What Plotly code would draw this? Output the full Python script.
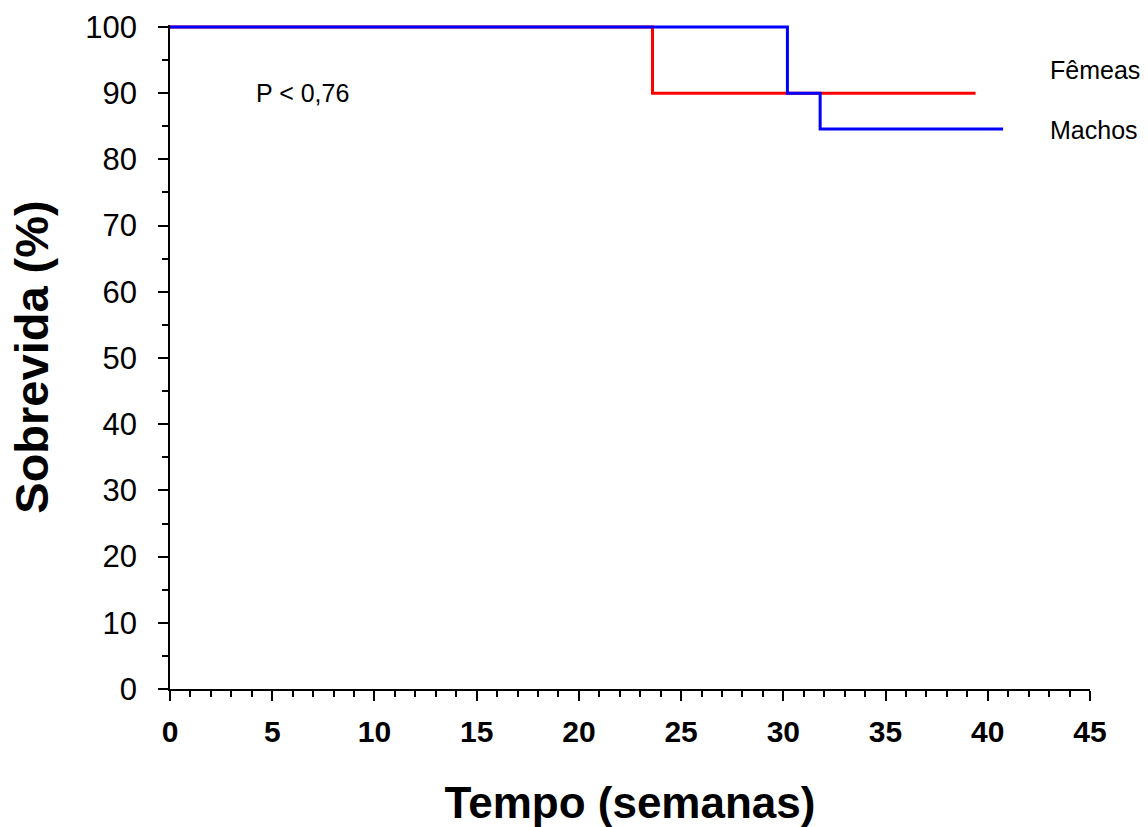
import plotly.graph_objects as go

# Kaplan-Meier step data (weeks, survival %)
femeas_t = [0, 23.6, 23.6, 39.4]
femeas_s = [100, 100, 90, 90]
machos_t = [0, 30.2, 30.2, 31.8, 31.8, 40.75]
machos_s = [100, 100, 90, 90, 84.6, 84.6]

x_ticks = [0, 5, 10, 15, 20, 25, 30, 35, 40, 45]
y_ticks = [0, 10, 20, 30, 40, 50, 60, 70, 80, 90, 100]

FONT = "Liberation Sans, Arial, sans-serif"

fig = go.Figure()
fig.add_trace(go.Scatter(x=femeas_t, y=femeas_s, mode="lines",
                         line=dict(color="#ff0000", width=3), cliponaxis=False,
                         name="Fêmeas", showlegend=False))
fig.add_trace(go.Scatter(x=machos_t, y=machos_s, mode="lines",
                         line=dict(color="#0000ff", width=3), cliponaxis=False,
                         name="Machos", showlegend=False))

fig.add_annotation(x=6.5, y=90, text="P < 0,76", showarrow=False,
                   font=dict(family=FONT, size=25, color="black"), xanchor="center")
fig.add_annotation(x=42.95, y=93.5, text="Fêmeas", showarrow=False,
                   font=dict(family=FONT, size=25, color="black"), xanchor="left")
fig.add_annotation(x=42.95, y=84.4, text="Machos", showarrow=False,
                   font=dict(family=FONT, size=25, color="black"), xanchor="left")

fig.update_layout(
    width=1148, height=827,
    paper_bgcolor="white", plot_bgcolor="white",
    margin=dict(l=170, r=58, t=25, b=138, autoexpand=False),
    font=dict(family=FONT, color="black"),
)
fig.update_xaxes(
    range=[0, 45], tickvals=x_ticks, ticktext=[str(v) for v in x_ticks],
    automargin=False,
    showgrid=False, zeroline=False, showline=True, linecolor="black", linewidth=2,
    ticks="outside", ticklen=10, tickwidth=2, tickcolor="black", ticklabelstandoff=5,
    tickfont=dict(family=FONT, size=30, color="black", weight="bold"),
    minor=dict(dtick=1, ticks="outside", ticklen=6, tickwidth=2, tickcolor="black", showgrid=False),
    title=dict(text="<b>Tempo (semanas)</b>", font=dict(family=FONT, size=44, color="black"), standoff=54),
)
fig.update_yaxes(
    range=[0, 100.3], tickvals=y_ticks, ticktext=[str(v) + "\u00a0\u2009" for v in y_ticks],
    automargin=False,
    showgrid=False, zeroline=False, showline=True, linecolor="black", linewidth=2,
    ticks="outside", ticklen=10, tickwidth=2, tickcolor="black",
    tickfont=dict(family=FONT, size=31, color="black"),
    minor=dict(dtick=5, ticks="outside", ticklen=6, tickwidth=2, tickcolor="black", showgrid=False),
    title=dict(text="<b>Sobrevida (%)</b>", font=dict(family=FONT, size=47, color="black"), standoff=22),
)

fig.write_html("out.html", config={"displayModeBar": False},
               post_script="document.body.style.margin='0px';document.body.style.overflow='hidden';")
